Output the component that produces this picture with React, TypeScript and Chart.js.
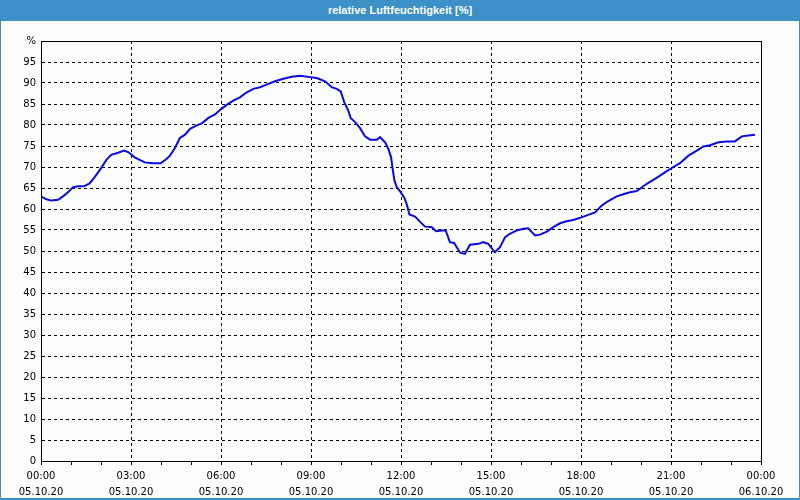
import React, { useEffect, useRef } from "react";
import { Chart, registerables } from "chart.js";

Chart.register(...registerables);

const TITLE = "relative Luftfeuchtigkeit [%]";

// time of day in hours since 05.10.20 00:00
const hours = [
  0.0, 0.18, 0.34, 0.57, 0.73, 0.9, 1.07, 1.23, 1.43, 1.62, 1.79, 2.01, 2.18, 2.34, 2.57, 2.77, 2.92,
  3.12, 3.29, 3.46, 3.73, 3.99, 4.18, 4.3, 4.47, 4.63, 4.8, 4.97, 5.19, 5.36, 5.58, 5.8, 5.97, 6.19,
  6.41, 6.63, 6.86, 7.08, 7.3, 7.52, 7.8, 8.08, 8.36, 8.63, 8.97, 9.19, 9.47, 9.69, 9.86, 9.99, 10.11,
  10.24, 10.32, 10.47, 10.63, 10.8, 10.97, 11.19, 11.3, 11.47, 11.58, 11.67, 11.72, 11.78, 11.86,
  11.97, 12.1, 12.19, 12.28, 12.47, 12.63, 12.8, 13.02, 13.17, 13.36, 13.49, 13.63, 13.77, 13.97,
  14.13, 14.3, 14.58, 14.74, 14.91, 15.13, 15.3, 15.47, 15.63, 15.86, 16.08, 16.24, 16.36, 16.47,
  16.63, 16.86, 17.08, 17.3, 17.52, 17.74, 17.97, 18.24, 18.47, 18.69, 18.91, 19.19, 19.41, 19.63,
  19.86, 20.19, 20.52, 20.86, 21.08, 21.3, 21.58, 21.86, 22.08, 22.3, 22.58, 22.86, 23.13, 23.36,
  23.58, 23.8,
];

const humidity = [
  63.0, 62.3, 62.0, 62.2, 63.0, 64.0, 65.2, 65.4, 65.4, 66.1, 67.6, 69.8, 71.7, 72.9, 73.4, 73.9, 73.5,
  72.3, 71.7, 71.1, 70.9, 70.9, 71.9, 72.7, 74.6, 76.9, 77.7, 79.1, 79.9, 80.4, 81.7, 82.5, 83.6, 84.8,
  85.8, 86.6, 87.8, 88.6, 89.0, 89.6, 90.4, 91.0, 91.5, 91.7, 91.4, 91.2, 90.4, 89.0, 88.6, 88.0, 85.4,
  83.5, 81.7, 80.7, 79.3, 77.3, 76.5, 76.5, 77.1, 75.9, 74.3, 72.3, 69.6, 66.8, 65.2,
  64.2, 62.8, 61.2, 58.7, 58.2, 57.0, 55.8, 55.7, 54.7, 54.9, 54.9, 52.1, 51.9, 49.6,
  49.3, 51.5, 51.7, 52.1, 51.7, 49.7, 50.9, 53.3, 54.1, 54.9, 55.3, 55.4, 54.5, 53.7,
  53.9, 54.6, 55.7, 56.6, 57.1, 57.4, 57.9, 58.6, 59.2, 60.8, 61.9, 63.0, 63.5, 64.0,
  64.3, 66.0, 67.4, 69.0, 70.0, 70.9, 72.7, 73.9, 74.9, 75.2, 75.9, 76.1, 76.1, 77.3,
  77.5, 77.7,
];

const xTickLabels: Record<number, string[]> = {
  0: ["00:00", "05.10.20"],
  3: ["03:00", "05.10.20"],
  6: ["06:00", "05.10.20"],
  9: ["09:00", "05.10.20"],
  12: ["12:00", "05.10.20"],
  15: ["15:00", "05.10.20"],
  18: ["18:00", "05.10.20"],
  21: ["21:00", "05.10.20"],
  24: ["00:00", "06.10.20"],
};

const Y_UNIT_LABEL = "%";

const frameBorder = {
  id: "frameBorder",
  afterDraw(chart: any) {
    const { ctx, chartArea } = chart;
    ctx.save();
    ctx.strokeStyle = "#000";
    ctx.lineWidth = 1;
    ctx.setLineDash([]);
    ctx.strokeRect(
      Math.round(chartArea.left) + 0.5,
      Math.round(chartArea.top) + 0.5,
      Math.round(chartArea.right - chartArea.left),
      Math.round(chartArea.bottom - chartArea.top)
    );
    ctx.restore();
  },
};

export default function App() {
  const ref = useRef<HTMLCanvasElement | null>(null);

  useEffect(() => {
    document.body.style.margin = "0";
    const canvas = ref.current;
    if (!canvas) return;
    const font = { family: "'DejaVu Sans', Verdana, sans-serif", size: 10, lineHeight: 1.6 };
    const chart = new Chart(canvas, {
      type: "line",
      data: {
        datasets: [
          {
            data: hours.map((h, i) => ({ x: h, y: humidity[i] })),
            borderColor: "#0a0ae6",
            borderWidth: 2,
            pointRadius: 0,
            tension: 0,
            fill: false,
          },
        ],
      },
      options: {
        animation: false,
        responsive: false,
        maintainAspectRatio: false,
        layout: { padding: { left: 0, right: 38, top: 20, bottom: 0 } },
        plugins: {
          legend: { display: false },
          tooltip: { enabled: false },
          title: { display: false },
        },
        scales: {
          x: {
            type: "linear",
            min: 0,
            max: 24,
            afterFit: (s: any) => {
              s.height = 37;
            },
            border: { display: true, color: "#000", width: 1, dash: [3, 3] },
            grid: {
              color: (c: any) => {
                const v = c.tick ? c.tick.value : 0;
                return v % 3 === 0 && v !== 0 && v !== 24 ? "#000" : "rgba(0,0,0,0)";
              },
              tickColor: "#000",
              tickLength: 4,
              tickBorderDash: [],
              lineWidth: 1,
              drawTicks: true,
            } as any,
            ticks: {
              stepSize: 1,
              autoSkip: false,
              maxRotation: 0,
              minRotation: 0,
              padding: 3,
              color: "#000",
              font,
              callback: (v: any) => (xTickLabels[v as number] ? xTickLabels[v as number] : ""),
            },
          },
          y: {
            min: 0,
            max: 100,
            afterFit: (s: any) => {
              s.width = 40;
            },
            border: { display: true, color: "#000", width: 1, dash: [3, 3] },
            grid: {
              color: (c: any) => {
                const v = c.tick ? c.tick.value : 0;
                return v === 0 || v === 100 ? "rgba(0,0,0,0)" : "#000";
              },
              lineWidth: 1,
              drawTicks: false,
            } as any,
            ticks: {
              stepSize: 5,
              padding: 5,
              color: "#000",
              font: { family: font.family, size: 10 },
              callback: (v: any) => (v === 100 ? Y_UNIT_LABEL : String(v)),
            },
          },
        },
      },
      plugins: [frameBorder],
    } as any);
    return () => chart.destroy();
  }, []);

  return (
    <div
      style={{
        width: 800,
        height: 500,
        boxSizing: "border-box",
        borderLeft: "1px solid #3c8fc7",
        borderRight: "1px solid #3c8fc7",
        borderBottom: "2px solid #3c8fc7",
        background: "#fbfdfb",
        position: "relative",
        overflow: "hidden",
      }}
    >
      <div
        style={{
          height: 21,
          background: "#3c8fc7",
          color: "#fff",
          fontFamily: "'Liberation Sans', Arial, sans-serif",
          fontWeight: "bold",
          fontSize: 11,
          lineHeight: "21px",
          textAlign: "center",
        }}
      >
        {TITLE}
      </div>
      <canvas ref={ref} width={798} height={477} style={{ display: "block" }} />
    </div>
  );
}
